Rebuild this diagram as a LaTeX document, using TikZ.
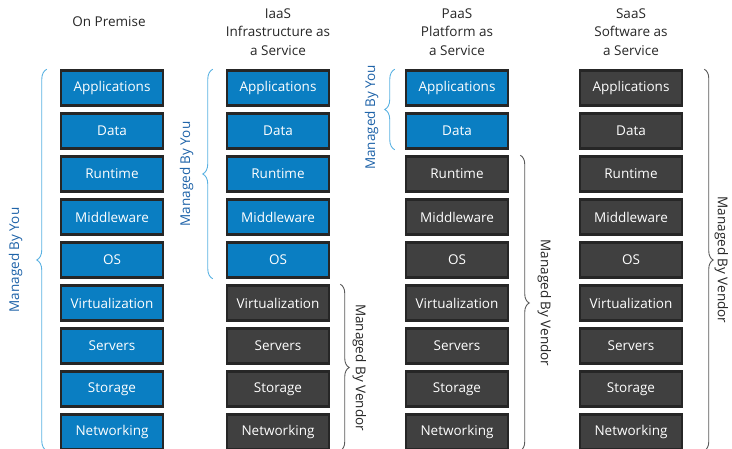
\documentclass[tikz,border=0pt]{standalone}
\usepackage{fontspec}
\setmainfont{Open Sans}
\usetikzlibrary{decorations.pathreplacing}

\definecolor{youblue}{HTML}{0A7EC2}
\definecolor{vendorgray}{HTML}{404040}
\definecolor{bracesky}{HTML}{5AB2E2}
\definecolor{labelblue}{HTML}{1D62A8}

\begin{document}
\begin{tikzpicture}[x=1pt,y=-1pt]
    \tikzstyle{layer}=[draw=black!85,line width=2.5pt,minimum width=102pt,minimum height=35pt,
      text=white,font=\fontsize{13.5}{16}\selectfont,inner sep=0pt]
    \tikzstyle{you}=[layer,fill=youblue]
    \tikzstyle{vendor}=[layer,fill=vendorgray]
    \tikzstyle{heading}=[align=center,text=black!85,font=\fontsize{13.5}{18.5}\selectfont]
    \tikzstyle{youbrace}=[decorate,decoration={brace,amplitude=10pt},draw=bracesky,line width=0.9pt]
    \tikzstyle{vendorbrace}=[decorate,decoration={brace,amplitude=9pt},draw=black!65,line width=0.9pt]
    \tikzstyle{youlabel}=[text=labelblue,font=\fontsize{13.5}{16}\selectfont,inner sep=0pt]
    \tikzstyle{vendorlabel}=[text=black!85,font=\fontsize{13.5}{16}\selectfont,inner sep=0pt]
    \useasboundingbox (0,0) rectangle (732,449);

    % column headings
    \node[heading] (hprem) at (109,22) {On Premise};
    \node[heading] (hiaas) at (278,32) {IaaS\\Infrastructure as\\a Service};
    \node[heading] (hpaas) at (457,32) {PaaS\\Platform as\\a Service};
    \node[heading] (hsaas) at (631,32) {SaaS\\Software as\\a Service};

    % the stacks, the first \nb layers are yours
    \foreach \col/\x/\nb in {prem/112/9,iaas/278/5,paas/457/2,saas/631/0} {
      \foreach \lab [count=\i] in {Applications,Data,Runtime,Middleware,OS,Virtualization,Servers,Storage,Networking} {
        \ifnum\i>\nb \def\st{vendor}\else\def\st{you}\fi
        \node[\st] (\col\i) at (\x,{88+43*(\i-1)}) {\lab};
      }
    }

    % who manages what
    \draw[youbrace] ([xshift=-13pt]prem9.south west) -- ([xshift=-13pt]prem1.north west)
      node[midway,left=24pt,youlabel] {\rotatebox{90}{Managed By You}};
    \draw[youbrace] ([xshift=-13pt]iaas5.south west) -- ([xshift=-13pt]iaas1.north west)
      node[midway,left=19pt,youlabel] {\rotatebox{90}{Managed By You}};
    \draw[vendorbrace] ([xshift=10pt]iaas6.north east) -- ([xshift=10pt]iaas9.south east)
      node[midway,right=12pt,vendorlabel] {\rotatebox{-90}{Managed By Vendor}};
    \draw[youbrace] ([xshift=-10pt]paas2.south west) -- ([xshift=-10pt]paas1.north west)
      node[midway,left=16pt,yshift=-8pt,youlabel] {\rotatebox{90}{Managed By You}};
    \draw[vendorbrace] ([xshift=11pt]paas3.north east) -- ([xshift=11pt]paas9.south east)
      node[midway,right=17pt,vendorlabel] {\rotatebox{-90}{Managed By Vendor}};
    \draw[vendorbrace] ([xshift=21pt]saas1.north east) -- ([xshift=21pt]saas9.south east)
      node[midway,right=10pt,vendorlabel] {\rotatebox{-90}{Managed By Vendor}};
\end{tikzpicture}
\end{document}
